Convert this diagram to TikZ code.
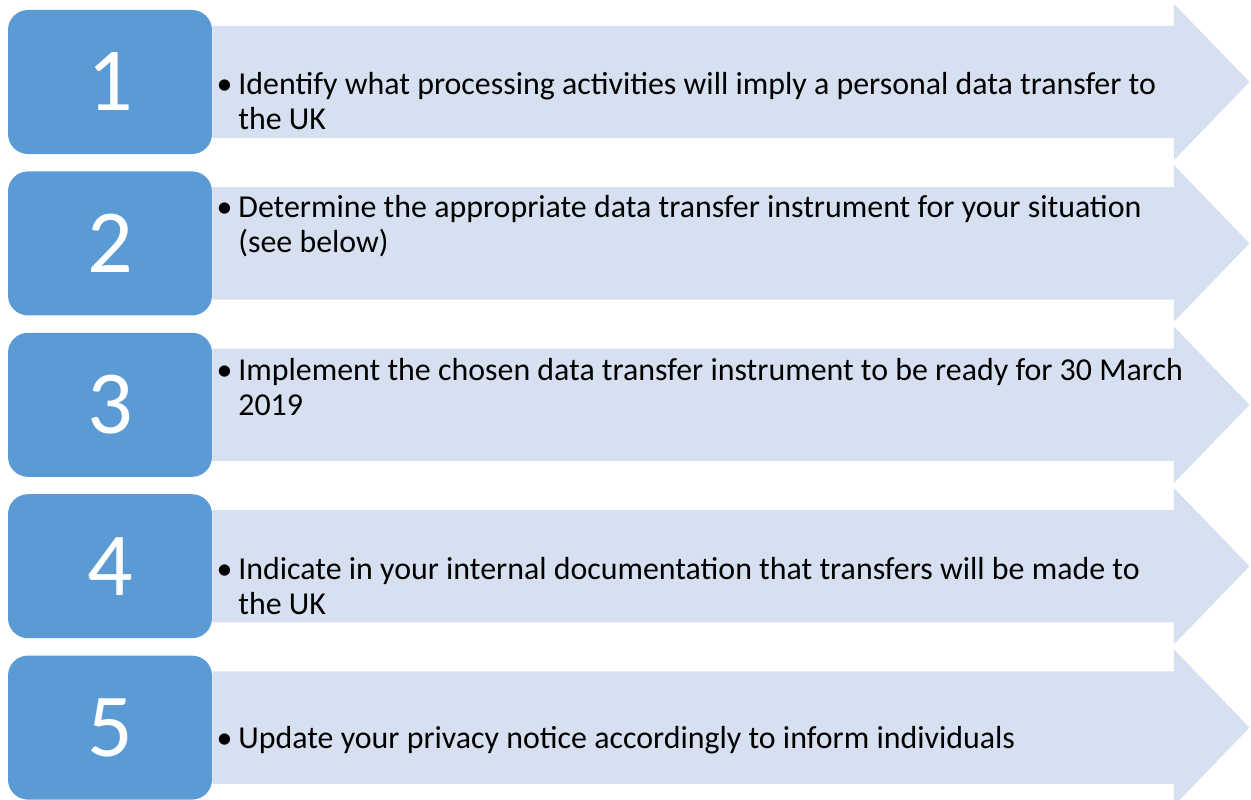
\documentclass[tikz,border=0pt]{standalone}
\usepackage{fontspec}
\setmainfont{Carlito}
\usepackage{xcolor}
\usetikzlibrary{shapes,arrows,positioning}
\definecolor{stepblue}{HTML}{5B9BD5}
\definecolor{bandblue}{HTML}{D6E0F0}

\begin{document}
\begin{tikzpicture}[x=1pt, y=-1pt, node distance=17pt]
	\tikzstyle{numbox} = [rectangle, fill=stepblue, rounded corners=20pt,
	minimum width=204pt, minimum height=144pt, inner sep=0pt, text=white,
	font=\fontsize{90}{90}\selectfont]
	\tikzstyle{band} = [single arrow, fill=bandblue, inner sep=0pt,
	text height=56pt, text depth=56pt, minimum height=1037pt,
	minimum width=156pt, single arrow head extend=22pt,
	single arrow tip angle=92, single arrow head indent=0pt]
	\tikzstyle{txt} = [anchor=west, align=left, inner sep=0pt,
	font=\fontsize{31.9}{35}\selectfont]
	\useasboundingbox (0,0) rectangle (1251,800);
	% Place number boxes
	\node [numbox] (n1) at (110,82) {1};
	\node [numbox, below=of n1] (n2) {2};
	\node [numbox, below=of n2] (n3) {3};
	\node [numbox, below=of n3] (n4) {4};
	\node [numbox, below=of n4] (n5) {5};
	% Place arrows
	\node [band, right=0pt of n1] (a1) {};
	\node [band, right=0pt of n2] (a2) {};
	\node [band, right=0pt of n3] (a3) {};
	\node [band, right=0pt of n4] (a4) {};
	\node [band, right=0pt of n5] (a5) {};
	% Place texts
	\node [txt, right=26pt of a1.west, yshift=-19pt] (t1) {\llap{\textbullet\hspace{6pt}}Identify what processing activities will imply a personal data transfer to\\the UK};
	\node [txt, right=26pt of a2.west, yshift=17pt] (t2) {\llap{\textbullet\hspace{6pt}}Determine the appropriate data transfer instrument for your situation\\(see below)};
	\node [txt, right=26pt of a3.west, yshift=18pt] (t3) {\llap{\textbullet\hspace{6pt}}Implement the chosen data transfer instrument to be ready for 30 March\\2019};
	\node [txt, right=26pt of a4.west, yshift=-20pt] (t4) {\llap{\textbullet\hspace{6pt}}Indicate in your internal documentation that transfers will be made to\\the UK};
	\node [txt, right=26pt of a5.west, yshift=-13pt] (t5) {\llap{\textbullet\hspace{6pt}}Update your privacy notice accordingly to inform individuals};
\end{tikzpicture}
\end{document}
